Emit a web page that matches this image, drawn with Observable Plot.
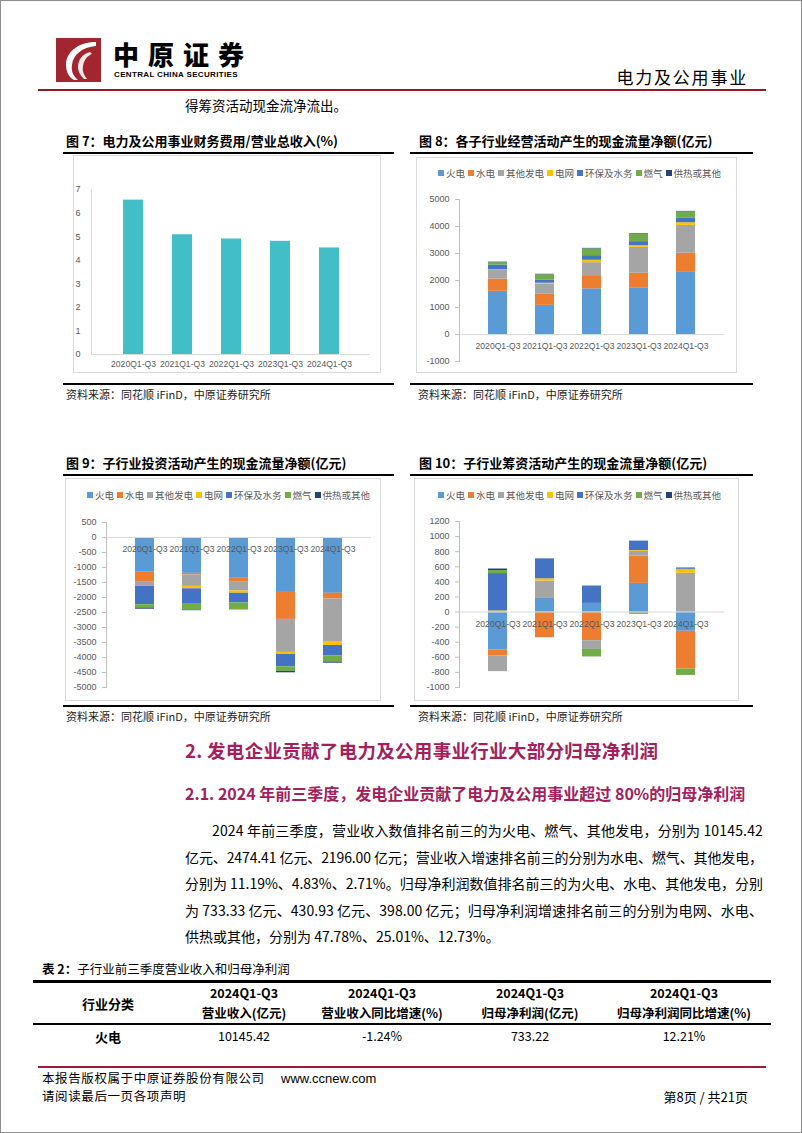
<!DOCTYPE html>
<html><head><meta charset="utf-8">
<script src="https://cdn.jsdelivr.net/npm/d3@7"></script>
<script src="https://cdn.jsdelivr.net/npm/@observablehq/plot@0.6"></script>
<style>
body{margin:0;background:#fff;}
#page{position:relative;width:800px;height:1131px;border:1px solid #8c8c8c;background:#fff;overflow:hidden;font-family:"Noto Sans CJK SC","Liberation Sans",sans-serif;color:#000;}
.t{position:absolute;white-space:nowrap;line-height:1;}
.hr{position:absolute;}
.box{position:absolute;border:1px solid #d9d9d9;box-sizing:border-box;}
.chart{position:absolute;}
.legend{position:absolute;display:flex;gap:3px;font-size:9.5px;color:#595959;line-height:1;white-space:nowrap;}
.legend span.sw{display:inline-block;width:6px;height:6px;margin-right:2px;vertical-align:1px;}
.para{position:absolute;font-size:14px;line-height:1;white-space:nowrap;}
</style></head>
<body><div id="page"></div>
<script>
// ---------------- data ----------------
const periods = ["2020Q1-Q3","2021Q1-Q3","2022Q1-Q3","2023Q1-Q3","2024Q1-Q3"];
const financeRatio = [6.55, 5.08, 4.90, 4.80, 4.52];
const ratioTicks = [0,1,2,3,4,5,6,7];
const sectors = ["火电","水电","其他发电","电网","环保及水务","燃气","供热或其他"];
const sectorColors = ["#5B9BD5","#ED7D31","#A5A5A5","#FFC000","#4472C4","#70AD47","#264478"];
// rows = sectors, columns = periods
const operatingCF = [
  [1600,1080,1690,1710,2300],
  [450,410,490,560,710],
  [320,370,480,960,1030],
  [30,40,90,60,100],
  [170,120,170,150,180],
  [90,190,250,280,220],
  [20,20,20,20,20]
];
const operatingTicks = [-1000,0,1000,2000,3000,4000,5000];
const investingCF = [
  [-1140,-1195,-1360,-1800,-1860],
  [-330,-55,-110,-930,-190],
  [-130,-380,-310,-1100,-1440],
  [-20,-80,-80,-70,-110],
  [-620,-490,-320,-410,-350],
  [-110,-220,-220,-150,-200],
  [-40,-20,-10,-50,-40]
];
const investingTicks = [-5000,-4500,-4000,-3500,-3000,-2500,-2000,-1500,-1000,-500,0,500];
const financingCF = [
  [-500,180,115,380,-255],
  [-80,-340,-380,360,-500],
  [-210,230,-115,65,515],
  [15,30,0,10,50],
  [495,265,230,125,8],
  [40,0,-100,-30,-85],
  [20,0,0,0,10]
];
const financingTicks = [-1000,-800,-600,-400,-200,0,200,400,600,800,1000,1200];
const tableHeader1 = ["行业分类","2024Q1-Q3","2024Q1-Q3","2024Q1-Q3","2024Q1-Q3"];
const tableHeader2 = ["","营业收入(亿元)","营业收入同比增速(%)","归母净利润(亿元)","归母净利润同比增速(%)"];
const tableRow1 = ["火电","10145.42","-1.24%","733.22","12.21%"];

// ---------------- helpers ----------------
const page = document.getElementById("page");
const FONT = '"Noto Sans CJK SC","Liberation Sans",sans-serif';
const NUMFONT = '"Liberation Sans",Arial,sans-serif';
function T(text, x, yc, size, css={}, anchor="start"){
  const d = document.createElement("div");
  d.className = "t";
  d.innerHTML = text;
  d.style.fontSize = size+"px";
  d.style.top = (yc - size/2 - 1)+"px";
  if(anchor==="start") d.style.left = x+"px";
  else if(anchor==="end"){ d.style.right = (800 - x)+"px"; }
  else { d.style.left = x+"px"; d.style.transform="translateX(-50%)"; }
  Object.assign(d.style, css);
  page.appendChild(d);
  return d;
}
function HR(x1,x2,y,h,color){
  const d=document.createElement("div");d.className="hr";
  Object.assign(d.style,{left:x1+"px",width:(x2-x1)+"px",top:(y-h/2)+"px",height:h+"px",background:color});
  page.appendChild(d);
}
function BOX(x1,y1,x2,y2){
  const d=document.createElement("div");d.className="box";
  Object.assign(d.style,{left:x1+"px",top:y1+"px",width:(x2-x1)+"px",height:(y2-y1)+"px"});
  page.appendChild(d);
}
function LEGEND(x,yc){
  const d=document.createElement("div");d.className="legend";
  d.style.left=x+"px";d.style.top=(yc-5)+"px";
  sectors.forEach((s,i)=>{
    const it=document.createElement("span");
    it.innerHTML=`<span class="sw" style="background:${sectorColors[i]}"></span>${s}`;
    d.appendChild(it);
  });
  page.appendChild(d);
}
function place(svg,x,y){
  const w=document.createElement("div");w.className="chart";
  w.style.left=x+"px";w.style.top=y+"px";
  w.appendChild(svg);page.appendChild(w);
}
function stacked(matrix, ticks, o){
  const data=[];
  sectors.forEach((s,i)=>periods.forEach((p,j)=>data.push({period:p,sector:s,value:matrix[i][j]})));
  return Plot.plot({
    width:o.width,height:o.height,
    marginLeft:o.ml,marginRight:o.mr,marginTop:o.mt,marginBottom:o.mb,
    style:{fontFamily:NUMFONT,fontSize:"9px",color:"#595959",background:"transparent",overflow:"visible"},
    x:{domain:periods,padding:0.6,axis:null},
    y:{domain:[ticks[0],ticks[ticks.length-1]],label:null},
    color:{domain:sectors,range:sectorColors},
    marks:[
      Plot.barY(data,{x:"period",y:"value",fill:"sector"}),
      Plot.ruleY([0],{stroke:"#d9d9d9",strokeWidth:1}),
      Plot.frame({anchor:"left",stroke:"#bfbfbf"}),
      Plot.axisY({ticks:ticks,tickSize:4,tickPadding:6,stroke:"#bfbfbf",fill:"#595959",label:null,tickFormat:d=>String(d)}),
      Plot.text(periods,{x:d=>d,y:()=>0,dy:12,fill:"#595959",fontSize:8.6,fontFamily:NUMFONT})
    ]
  });
}

// ---------------- header ----------------
const logo=document.createElement("div");
logo.style.cssText="position:absolute;left:55px;top:37px;width:45px;height:44px;";
logo.innerHTML=`<svg width="45" height="44" viewBox="0 0 45 44"><rect width="45" height="44" fill="#A2262F"/>
<path d="M40 4 C22 4 10 14 10 27 C10 35 14 40 18 42 L22 42 C17 38 15 33 16 27 C17 17 26 9 40 8 Z" fill="#fff"/>
<path d="M34 14 C26 16 22 22 22 29 C22 34 25 38 28 41 L31 41 C28 37 26 33 27 28 C28 22 31 18 36 16 Z" fill="#fff" opacity="0.9"/>
<path d="M18 14 C14 18 13 22 13 26" stroke="#fff" stroke-width="1.2" fill="none"/></svg>`;
page.appendChild(logo);
T("中原证券",112,54,26,{fontWeight:"900",letterSpacing:"9px"});
T("CENTRAL CHINA SECURITIES",113,75,8,{fontWeight:"bold",fontFamily:NUMFONT,letterSpacing:"0.35px"});
T("电力及公用事业",747,76,17,{letterSpacing:"1.8px"},"end");
HR(37,765,89,2.5,"#8E1B2B");
T("得筹资活动现金流净流出。",184,106,13.5);

// ---------------- chart titles / rules ----------------
const titleCss={fontWeight:"bold"};
T("图 7：电力及公用事业财务费用/营业总收入(%)",65,140,13,titleCss);
T("图 8：各子行业经营活动产生的现金流量净额(亿元)",418,140,13,titleCss);
HR(62,393,152,2,"#000");HR(409,752,152,2,"#000");
HR(62,393,383,2,"#000");HR(409,752,383,2,"#000");
const srcCss={color:"#222"};
T("资料来源：同花顺 iFinD，中原证券研究所",65,394,11,srcCss);
T("资料来源：同花顺 iFinD，中原证券研究所",417,394,11,srcCss);
T("图 9：子行业投资活动产生的现金流量净额(亿元)",65,462,13,titleCss);
T("图 10：子行业筹资活动产生的现金流量净额(亿元)",418,462,13,titleCss);
HR(62,393,474,2,"#000");HR(409,752,474,2,"#000");
HR(62,393,705,2,"#000");HR(409,752,705,2,"#000");
T("资料来源：同花顺 iFinD，中原证券研究所",65,716,11,srcCss);
T("资料来源：同花顺 iFinD，中原证券研究所",417,716,11,srcCss);

// ---------------- chart boxes ----------------
BOX(72,154,380,372);
BOX(415,156,736,372);
BOX(64,477,380,700);
BOX(413,477,738,700);

// ---------------- chart 7 ----------------
const c7 = Plot.plot({
  width:306,height:216,marginLeft:18,marginRight:9,marginTop:34,marginBottom:17,
  style:{fontFamily:NUMFONT,fontSize:"8.6px",color:"#595959",background:"transparent",overflow:"visible"},
  x:{domain:periods,padding:0.6,label:null},
  y:{domain:[0,7],label:null},
  marks:[
    Plot.barY(periods.map((p,i)=>({period:p,value:financeRatio[i]})),{x:"period",y:"value",fill:"#42BEC6"}),
    Plot.ruleY([0],{stroke:"#d9d9d9"}),
    Plot.frame({anchor:"left",stroke:"#d9d9d9"}),
    Plot.axisY({ticks:ratioTicks,tickSize:0,tickPadding:11,fill:"#595959",label:null,tickFormat:d=>String(d),fontSize:9}),
    Plot.axisX({tickSize:0,tickPadding:6,fill:"#595959",label:null,fontSize:8.6})
  ]
});
place(c7,72,154);

// ---------------- chart 8 ----------------
LEGEND(437,173);
place(stacked(operatingCF,operatingTicks,{width:321,height:187,ml:43,mr:13,mt:13,mb:12}),415,185);

// ---------------- chart 9 ----------------
LEGEND(86,495);
place(stacked(investingCF,investingTicks,{width:316,height:186,ml:41,mr:10,mt:11,mb:10}),64,510);

// ---------------- chart 10 ----------------
LEGEND(437,495);
place(stacked(financingCF,financingTicks,{width:325,height:186,ml:45,mr:15,mt:10,mb:10}),413,510);

// ---------------- section text ----------------
const hColor="#A3205B";
T("2. 发电企业贡献了电力及公用事业行业大部分归母净利润",184,750,18.5,{color:hColor,fontWeight:"bold",letterSpacing:"0.3px"});
T("2.1. 2024 年前三季度，发电企业贡献了电力及公用事业超过 80%的归母净利润",184,793,16,{color:hColor,fontWeight:"bold"});
const paraLines=[
  ["2024 年前三季度，营业收入数值排名前三的为火电、燃气、其他发电，分别为 10145.42",211,830,true],
  ["亿元、2474.41 亿元、2196.00 亿元；营业收入增速排名前三的分别为水电、燃气、其他发电，",184,857,true],
  ["分别为 11.19%、4.83%、2.71%。归母净利润数值排名前三的为火电、水电、其他发电，分别",184,883,true],
  ["为 733.33 亿元、430.93 亿元、398.00 亿元；归母净利润增速排名前三的分别为电网、水电、",184,910,true],
  ["供热或其他，分别为 47.78%、25.01%、12.73%。",184,936,false]
];
paraLines.forEach(([txt,x,yc,just])=>{
  const d=document.createElement("div");d.className="para";
  d.textContent=txt;
  d.style.left=x+"px";d.style.top=(yc-8)+"px";
  page.appendChild(d);
  if(just){
    const w=d.getBoundingClientRect().width;
    const n=[...txt].length;
    d.style.letterSpacing=((762-x-w)/n)+"px";
  }
});

// ---------------- table ----------------
T("<b>表 2：</b>子行业前三季度营业收入和归母净利润",41,969,12.5);
HR(32,770,980.5,2.5,"#000");
const colX=[107,243,381,529,683];
const thCss={fontWeight:"bold"};
T(tableHeader1[0],colX[0],1003,13,thCss,"middle");
for(let i=1;i<5;i++){T(tableHeader1[i],colX[i],993,12.5,thCss,"middle");T(tableHeader2[i],colX[i],1013,12.5,thCss,"middle");}
HR(32,770,1023,1.5,"#000");
T(tableRow1[0],colX[0],1036,13,{fontWeight:"bold"},"middle");
for(let i=1;i<5;i++) T(tableRow1[i],colX[i],1036,12.5,{},"middle");

// ---------------- footer ----------------
HR(37,765,1066,2.5,"#9B1B30");
T("本报告版权属于中原证券股份有限公司",41,1078,12.5,{letterSpacing:"0.6px"});
T("www.ccnew.com",280,1078,13,{fontFamily:NUMFONT});
T("请阅读最后一页各项声明",41,1096,12.5,{letterSpacing:"0.6px"});
T("第8页 / 共21页",747,1096,13,{},"end");
</script></body></html>
